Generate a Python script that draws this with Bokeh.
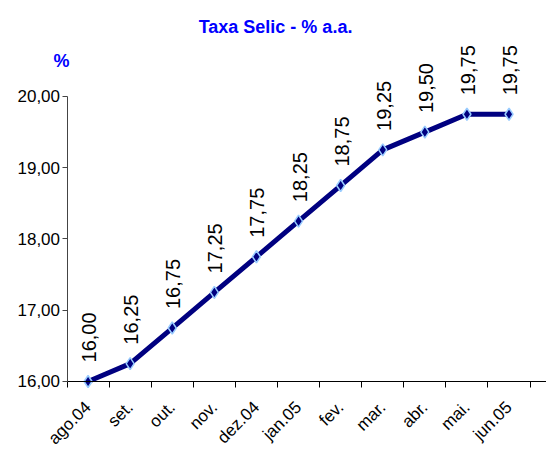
import math
from bokeh.plotting import figure
from bokeh.models import Range1d, FixedTicker, Label, ColumnDataSource
from bokeh.core.properties import value
from bokeh.embed import file_html
from bokeh.resources import INLINE

months = ["ago.04", "set.", "out.", "nov.", "dez.04", "jan.05", "fev.", "mar.", "abr.", "mai.", "jun.05"]
selic = [16.00, 16.25, 16.75, 17.25, 17.75, 18.25, 18.75, 19.25, 19.50, 19.75, 19.75]
y_ticks = [16, 17, 18, 19, 20]
title_text = "Taxa Selic - % a.a."
unit_text = "%"

FONT = "Liberation Sans"
xs = list(range(len(months)))
labels = [("%.2f" % v).replace(".", ",") for v in selic]
src = ColumnDataSource(dict(x=xs, y=selic, lab=labels))

X0, X1 = -2.08, 10.89
Y0, Y1 = 14.919, 21.347

p = figure(width=546, height=458, output_backend="svg", toolbar_location=None,
           x_range=Range1d(X0, X1), y_range=Range1d(Y0, Y1),
           min_border_left=0, min_border_right=0, min_border_top=0, min_border_bottom=0)
p.outline_line_color = None
p.xgrid.visible = False
p.ygrid.visible = False

p.line("x", "y", source=src, line_color="#000080", line_width=5)
p.scatter("x", "y", source=src, marker="diamond", size=12, fill_color="#000080",
          line_color="#99CCFF", line_width=1.5)
p.text("x", "y", text="lab", source=src, angle=math.pi / 2, x_offset=1, y_offset=-19,
       text_font=value(FONT), text_font_size="20px", text_color="black",
       text_align="left", text_baseline="middle")

# x axis
xa = p.xaxis[0]
xa.fixed_location = 16
xa.bounds = (-0.5, X1)
xa.ticker = FixedTicker(ticks=xs, minor_ticks=[i - 0.5 for i in range(len(months) + 1)])
xa.major_label_overrides = {i: m for i, m in enumerate(months)}
xa.major_tick_in = 0
xa.major_tick_out = 0
xa.minor_tick_in = 0
xa.minor_tick_out = 6
xa.minor_tick_line_color = "black"
xa.axis_line_color = "black"
xa.major_label_orientation = math.pi / 4
xa.major_label_text_font = FONT
xa.major_label_text_font_size = "17px"
xa.major_label_text_color = "black"
xa.major_label_standoff = 17

# y axis
ya = p.yaxis[0]
ya.fixed_location = -0.5
ya.ticker = FixedTicker(ticks=y_ticks)
ya.major_label_overrides = {t: ("%.2f" % t).replace(".", ",") for t in y_ticks}
ya.bounds = (16, 20)
ya.major_tick_in = 0
ya.major_tick_out = 5
ya.minor_tick_out = 0
ya.minor_tick_in = 0
ya.axis_line_color = "#444444"
ya.major_tick_line_color = "#444444"
ya.major_label_text_font = FONT
ya.major_label_text_font_size = "17px"
ya.major_label_text_color = "black"
ya.major_label_standoff = 2

p.add_layout(Label(x=4.453, y=20.982, text=title_text, text_font=FONT, text_font_size="18px",
                   text_font_style="bold", text_color="#0000FF", text_align="center",
                   text_baseline="middle"))
p.add_layout(Label(x=-0.63, y=20.491, text=unit_text, text_font=FONT, text_font_size="18px",
                   text_font_style="bold", text_color="#0000FF", text_align="center",
                   text_baseline="middle"))

open("out.html", "w").write(file_html(p, INLINE))
